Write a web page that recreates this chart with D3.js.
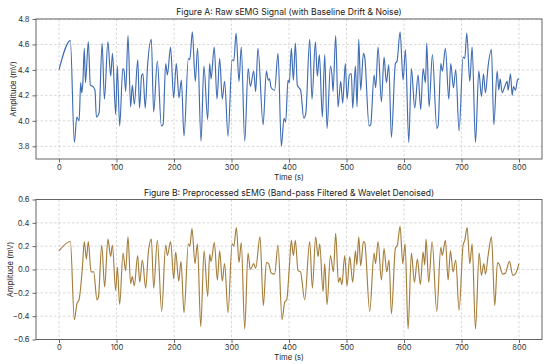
<!DOCTYPE html>
<html>
<head>
<meta charset="utf-8">
<script src="https://cdn.jsdelivr.net/npm/d3@7"></script>
<style>
  html, body { margin: 0; padding: 0; background: #fff; }
  svg { display: block; }
</style>
</head>
<body>
<div id="chart"></div>
<script>
// Two stacked sEMG panels: raw signal (top) and preprocessed signal (bottom).
// Values at each visible turning point.

const xTicks = [0, 100, 200, 300, 400, 500, 600, 700, 800];

const rawTime = [0, 19.8, 26.7, 31, 35, 37.7, 39.5, 41.5, 44, 46, 51, 54.5, 59, 62.6, 65, 69.6, 75, 79, 85, 90, 93, 98.6, 101.4, 105.5, 111, 113, 116, 120, 124.6, 127.5, 131, 137, 140, 143.8, 146, 150, 154, 160.6, 164.6, 171, 178, 181, 185.5, 188.5, 194, 199.4, 204, 208.7, 212.8, 217.4, 225, 227.5, 231.9, 237, 241, 247, 252, 258.6, 262, 264.5, 270, 274.8, 279.4, 284, 288, 294, 301, 304, 308, 313, 317, 323, 329, 332.8, 338.6, 342, 346, 355, 360.6, 364, 366, 369, 375, 380.9, 386.7, 391.3, 394.2, 398.3, 400.6, 404.1, 407.6, 411.1, 414.5, 420.3, 425.6, 429, 436, 440, 445.9, 449.3, 452.8, 458, 462.1, 466.2, 472, 474.9, 476.6, 481.2, 485.3, 489.9, 493.4, 498, 501, 505, 508.5, 510.8, 515.5, 518.4, 521.3, 524.7, 529.4, 531.7, 539.2, 542.1, 547.9, 550.8, 554.9, 560.7, 565.3, 569.4, 573.5, 578.1, 585, 588, 593.2, 598.4, 602.5, 608.3, 612.9, 618.7, 624.5, 629.1, 633.2, 637.3, 639.6, 643.6, 649.4, 657, 659.3, 664, 666.8, 672, 677.9, 681.3, 686, 690, 695.8, 702.8, 705.7, 709.2, 714.4, 718.5, 724.3, 730.1, 734.7, 738.2, 741.7, 746.3, 752.1, 756.2, 762, 764.9, 767.2, 770.7, 775.3, 779.4, 781.1, 785.2, 788.1, 790.4, 793.9, 797.3, 800];
const rawAmp = [4.40, 4.63, 3.83, 4.03, 4.00, 4.30, 4.22, 4.30, 4.57, 4.30, 4.62, 4.28, 4.27, 4.24, 4.03, 4.06, 4.61, 4.17, 4.62, 4.35, 4.53, 4.05, 4.43, 3.96, 4.41, 4.40, 4.23, 4.67, 4.11, 4.28, 4.13, 4.48, 4.10, 4.36, 4.37, 4.10, 4.43, 4.64, 4.07, 4.47, 3.96, 3.97, 4.45, 4.36, 4.58, 4.18, 4.45, 4.18, 4.32, 3.88, 4.49, 4.48, 4.70, 4.31, 4.57, 3.84, 4.43, 4.01, 4.45, 4.33, 4.58, 4.17, 4.49, 4.17, 4.31, 3.88, 4.48, 4.47, 4.69, 4.31, 4.58, 3.84, 4.41, 4.27, 4.39, 4.23, 4.57, 3.97, 4.39, 4.32, 4.33, 4.26, 4.24, 4.53, 3.80, 4.02, 3.99, 4.32, 4.30, 4.57, 4.32, 4.61, 4.28, 4.24, 4.02, 4.05, 4.64, 4.17, 4.62, 4.35, 4.52, 4.03, 4.52, 3.94, 4.43, 4.35, 4.23, 4.67, 4.11, 4.31, 4.14, 4.45, 4.17, 4.36, 4.37, 4.10, 4.43, 4.11, 4.64, 4.24, 4.53, 4.50, 3.96, 3.97, 4.36, 4.26, 4.58, 4.15, 4.50, 4.30, 4.44, 3.87, 4.45, 4.47, 4.70, 4.32, 4.56, 3.83, 4.41, 4.10, 4.36, 4.09, 4.41, 4.30, 4.61, 4.11, 4.52, 3.94, 3.96, 4.45, 4.39, 4.57, 4.17, 4.45, 4.26, 4.40, 3.92, 4.50, 4.49, 4.69, 4.31, 4.58, 3.83, 4.39, 4.19, 4.37, 4.22, 4.43, 4.56, 3.97, 4.39, 4.24, 4.33, 4.22, 4.27, 4.31, 4.24, 4.37, 4.20, 4.27, 4.24, 4.32, 4.33];

const cleanTime = [0, 19.8, 26.7, 31.3, 34.8, 40.6, 44, 47.6, 51, 55.7, 60.3, 66, 68.5, 74.3, 79.4, 85, 89.9, 92.8, 98.6, 101.5, 105.5, 111.3, 115.9, 120, 124.6, 127.5, 131, 136.8, 140.3, 145, 150.8, 155.4, 160.6, 164.7, 171, 178.6, 185.5, 188.5, 194.2, 199.5, 203, 208.2, 212.2, 217.4, 225, 227.5, 231.3, 236.5, 240.7, 246.5, 252.3, 258.6, 262, 264.5, 270.2, 275.4, 279.4, 284, 288, 294, 301, 304, 308.5, 313, 317, 323, 328.7, 332.8, 338.6, 342, 349.6, 355.4, 360.6, 364.5, 369, 375, 380.9, 387.9, 392.5, 396, 400.6, 404.1, 407.6, 411, 415.7, 420, 427.3, 436, 440.6, 446.4, 450.5, 453.4, 459.2, 462.1, 466.2, 472, 477.2, 481.2, 485.9, 489, 492, 496.9, 501, 505.6, 510.8, 515.5, 518, 521.3, 524.7, 529.4, 531.7, 540.4, 547.9, 550.5, 554.9, 560.7, 565.3, 570, 574, 578.1, 585, 588.5, 593.2, 597.8, 601.9, 607.1, 612.9, 618.1, 623.3, 628.5, 633.2, 636.1, 638.4, 643, 648.9, 657, 664, 666.5, 672, 676.7, 680.8, 685.4, 690, 695.8, 702.8, 705.7, 709.8, 714.4, 718.5, 724.3, 730.7, 734.7, 738.8, 741.7, 746.3, 752.1, 757.9, 762.5, 765, 771.8, 776.5, 783.4, 789.2, 793.5, 800];
const cleanAmp = [0.16, 0.24, -0.43, -0.29, -0.26, 0.01, 0.24, 0.09, 0.24, -0.02, -0.02, -0.26, -0.24, 0.21, -0.15, 0.26, 0.11, 0.21, -0.18, 0.02, -0.30, 0.14, -0.01, 0.28, -0.12, -0.06, -0.14, 0.12, -0.11, 0.08, -0.16, 0.15, 0.26, -0.16, 0.25, -0.36, 0.21, 0.12, 0.24, -0.08, 0.15, -0.10, 0.07, -0.37, 0.22, 0.20, 0.35, 0.05, 0.22, -0.49, 0.16, -0.23, 0.13, 0.07, 0.23, -0.09, 0.16, -0.10, 0.05, -0.37, 0.22, 0.20, 0.36, 0.06, 0.23, -0.51, 0.14, 0.00, 0.05, 0.01, 0.28, -0.31, 0.06, 0.05, -0.03, -0.04, 0.21, -0.43, -0.28, -0.26, 0.02, 0.25, 0.12, 0.25, -0.01, -0.02, -0.26, 0.24, -0.16, 0.28, 0.11, 0.22, -0.19, 0.05, -0.30, 0.12, -0.02, 0.31, -0.11, -0.07, -0.13, 0.12, -0.14, 0.11, -0.11, 0.16, 0.04, 0.28, 0.03, 0.24, 0.23, -0.36, 0.14, 0.05, 0.24, -0.09, 0.18, -0.02, 0.08, -0.38, 0.18, 0.21, 0.37, 0.05, 0.22, -0.51, 0.14, -0.11, 0.09, -0.13, 0.15, 0.04, 0.26, -0.11, 0.24, -0.36, 0.19, 0.12, 0.25, -0.09, 0.16, -0.02, 0.08, -0.35, 0.21, 0.25, 0.36, 0.05, 0.22, -0.51, 0.14, -0.05, 0.05, -0.04, 0.12, 0.28, -0.31, 0.06, 0.05, -0.04, -0.03, 0.07, -0.05, -0.04, 0.05];

const rawTicks   = [3.8, 4.0, 4.2, 4.4, 4.6, 4.8];
const cleanTicks = [-0.6, -0.4, -0.2, 0.0, 0.2, 0.4, 0.6];

const W = 550, H = 364;
const FONT = "Inter, 'Open Sans', sans-serif";

const svg = d3.select("#chart")
  .append("svg")
    .attr("width", W)
    .attr("height", H);

function drawPanel(opts) {
  const { left, right, top, bottom, title, time, amp, yDomain, yTicks, yFmt, color, yLabelX } = opts;
  const iw = right - left, ih = bottom - top;

  const x = d3.scaleLinear().domain([-40, 840]).range([0, iw]);
  const y = d3.scaleLinear().domain(yDomain).range([ih, 0]);

  const g = svg.append("g").attr("transform", `translate(${left},${top})`);

  // grid
  g.selectAll(".grid-v")
    .data(xTicks)
    .join("line")
      .attr("x1", d => x(d)).attr("x2", d => x(d))
      .attr("y1", 0).attr("y2", ih)
      .attr("stroke", "#cfcfcf")
      .attr("stroke-width", 0.8)
      .attr("stroke-dasharray", "2.5,2");

  g.selectAll(".grid-h")
    .data(yTicks)
    .join("line")
      .attr("x1", 0).attr("x2", iw)
      .attr("y1", d => y(d)).attr("y2", d => y(d))
      .attr("stroke", "#cfcfcf")
      .attr("stroke-width", 0.8)
      .attr("stroke-dasharray", "2.5,2");

  // signal
  const data = time.map((t, i) => ({ t, v: amp[i] }));
  const lineFn = d3.line()
    .x(d => x(d.t))
    .y(d => y(d.v))
    .curve(d3.curveMonotoneX);

  g.append("path")
    .datum(data)
    .attr("d", lineFn)
    .attr("fill", "none")
    .attr("stroke", color)
    .attr("stroke-width", 1.15)
    .attr("stroke-linejoin", "round");

  // axes
  const xAxisG = g.append("g")
    .attr("transform", `translate(0,${ih})`)
    .call(d3.axisBottom(x).tickValues(xTicks).tickSize(3.5).tickPadding(2));

  const yAxisG = g.append("g")
    .call(d3.axisLeft(y).tickValues(yTicks).tickFormat(yFmt).tickSize(3.5).tickPadding(3));

  [xAxisG, yAxisG].forEach(ax => {
    ax.select(".domain").remove();
    ax.selectAll(".tick line").attr("stroke", "#444").attr("stroke-width", 0.8);
    ax.selectAll("text")
      .attr("fill", "#333")
      .attr("font-size", "7.6px")
      .attr("font-family", FONT);
  });

  // frame
  g.append("rect")
    .attr("x", 0).attr("y", 0)
    .attr("width", iw).attr("height", ih)
    .attr("fill", "none")
    .attr("stroke", "#555")
    .attr("stroke-width", 0.9);

  // title
  g.append("text")
    .attr("x", iw / 2)
    .attr("y", -4)
    .attr("text-anchor", "middle")
    .attr("fill", "#222")
    .attr("font-size", "8.6px")
    .attr("font-family", FONT)
    .text(title);

  // axis labels
  g.append("text")
    .attr("x", iw / 2)
    .attr("y", ih + 20.5)
    .attr("text-anchor", "middle")
    .attr("fill", "#222")
    .attr("font-size", "7.6px")
    .attr("font-family", FONT)
    .text("Time (s)");

  g.append("text")
    .attr("transform", "rotate(-90)")
    .attr("x", -(ih / 2))
    .attr("y", yLabelX - left)
    .attr("text-anchor", "middle")
    .attr("fill", "#222")
    .attr("font-size", "7.6px")
    .attr("font-family", FONT)
    .text("Amplitude (mV)");
}

drawPanel({
  left: 36, right: 542, top: 19, bottom: 159,
  title: "Figure A: Raw sEMG Signal (with Baseline Drift & Noise)",
  time: rawTime, amp: rawAmp,
  yDomain: [3.7, 4.8], yTicks: rawTicks, yFmt: d3.format(".1f"),
  color: "#3f6cb2", yLabelX: 16,
});

drawPanel({
  left: 36, right: 542, top: 199.5, bottom: 339.5,
  title: "Figure B: Preprocessed sEMG (Band-pass Filtered & Wavelet Denoised)",
  time: cleanTime, amp: cleanAmp,
  yDomain: [-0.6, 0.6], yTicks: cleanTicks, yFmt: d3.format(".1f"),
  color: "#a57e3c", yLabelX: 13,
});
</script>
</body>
</html>
